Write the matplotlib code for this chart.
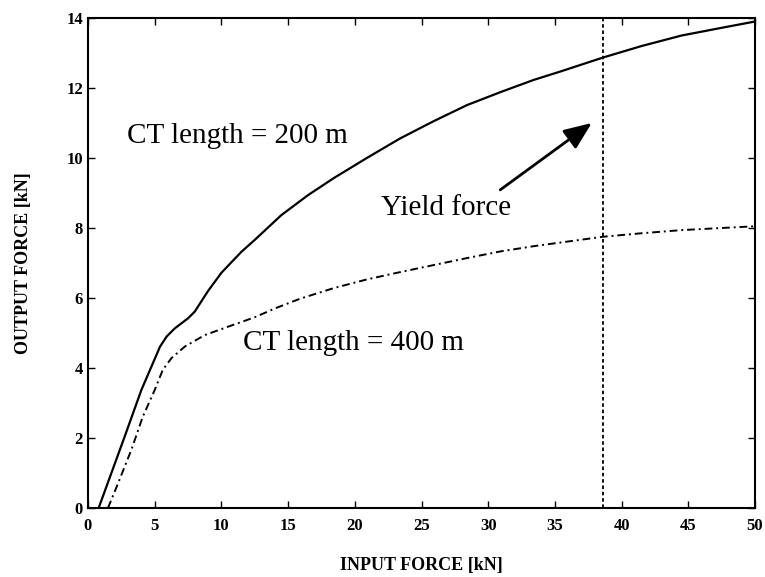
import matplotlib
matplotlib.use("Agg")
import matplotlib.pyplot as plt

plt.rcParams['font.family'] = ['Liberation Serif', 'DejaVu Serif']

# CT length = 200 m
x200 = [0.8, 2.75, 4.0, 5.4, 5.9, 6.5, 7.5, 8.0, 9.0, 10.0, 11.5, 12.5, 14.5, 16.5,
        18.4, 20.9, 23.4, 25.9, 28.4, 30.9, 33.4, 35.4, 38.6, 41.5, 44.5, 47.5, 50]
y200 = [0.0, 2.04, 3.37, 4.61, 4.9, 5.13, 5.42, 5.61, 6.2, 6.72, 7.32, 7.66, 8.37, 8.94,
        9.42, 10.0, 10.56, 11.05, 11.51, 11.88, 12.23, 12.47, 12.87, 13.2, 13.5, 13.72, 13.9]

# CT length = 400 m
x400 = [1.5, 2.25, 3.25, 4.1, 5.0, 5.6, 6.25, 7.25, 8.75, 10.5, 12.5, 14.0, 15.9,
        18.4, 20.9, 23.4, 25.9, 28.4, 30.9, 33.4, 35.9, 38.6, 41.5, 44.5, 47.5, 50]
y400 = [0.0, 0.7, 1.66, 2.6, 3.37, 3.94, 4.28, 4.61, 4.94, 5.18, 5.45, 5.7, 5.98,
        6.28, 6.53, 6.74, 6.94, 7.14, 7.33, 7.48, 7.61, 7.75, 7.85, 7.94, 8.0, 8.05]

yield_force = 38.6

fig = plt.figure(figsize=(7.65, 5.77), dpi=100)
ax = fig.add_axes([0.115, 0.1196, 0.872, 0.8492])

ax.plot(x200, y200, color='black', linestyle='-', linewidth=1.6)
ax.plot(x400, y400, color='black', linestyle=(0, (4, 2, 1, 2)), linewidth=1.4)
ax.plot([yield_force, yield_force], [0, 14], color='black', linestyle=(0, (2, 1.5)), linewidth=1.3)

ax.set_xlim(0, 50)
ax.set_ylim(0, 14)
ax.set_xticks(range(0, 51, 5))
ax.set_yticks(range(0, 15, 2))
ax.tick_params(direction='in', top=True, right=True, length=5, width=1,
               labelsize=12)
ax.tick_params(axis='x', pad=7)
for lab in ax.get_xticklabels() + ax.get_yticklabels():
    lab.set_fontweight('bold')
for s in ax.spines.values():
    s.set_linewidth(1.5)

ax.set_xlabel('INPUT FORCE [kN]', fontsize=13, fontweight='bold', labelpad=17)
ax.set_ylabel('OUTPUT FORCE [kN]', fontsize=13, fontweight='bold', labelpad=25)

ax.text(2.95, 10.42, 'CT length = 200 m', fontsize=21, va='baseline', ha='left')
ax.text(11.6, 4.51, 'CT length = 400 m', fontsize=21, va='baseline', ha='left')
ax.text(22.0, 8.37, 'Yield force', fontsize=21, va='baseline', ha='left')
ax.annotate('', xy=(37.76, 11.0), xytext=(30.9, 9.09),
            arrowprops=dict(arrowstyle='-|>,head_length=1.7,head_width=0.7',
                            color='black', lw=2.0, shrinkA=0, shrinkB=0))

fig.savefig('out.png', dpi=100)
